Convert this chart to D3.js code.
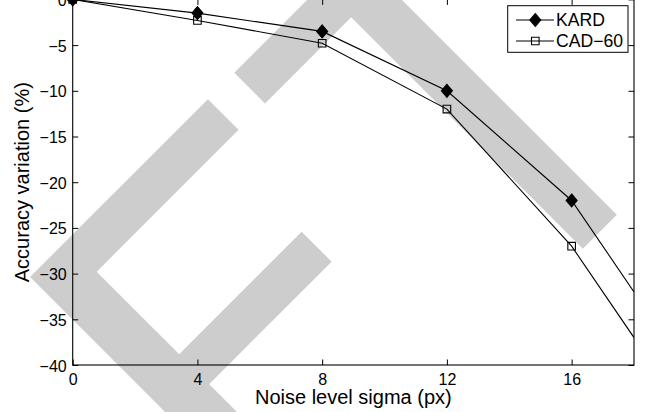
<!DOCTYPE html>
<html>
<head>
<meta charset="utf-8">
<script src="https://cdn.jsdelivr.net/npm/d3@7"></script>
<style>
  html, body { margin: 0; padding: 0; background: #fff; }
  svg { display: block; font-family: "Liberation Sans", Arial, Helvetica, sans-serif; }
</style>
</head>
<body>
<svg id="chart" width="648" height="412"></svg>
<script>
// ---- data ----
const noiseSigma = [0, 4, 8, 12, 16, 18];
const kardValues = [0, -1.5, -3.5, -10, -22, -32];
const cad60Values = [0, -2.3, -4.8, -12, -27, -37];
const seriesNames = ["KARD", "CAD\u221260"];
const xTickValues = [0, 4, 8, 12, 16];
const yTickValues = [0, -5, -10, -15, -20, -25, -30, -35, -40];
const xLabel = "Noise level sigma (px)";
const yLabel = "Accuracy variation (%)";

// ---- layout ----
const W = 648, H = 412;
const plot = { left: 72.7, right: 634, top: -0.6, bottom: 365 };
const svg = d3.select("#chart");

const x = d3.scaleLinear().domain([0, 18]).range([plot.left, plot.right]);
const y = d3.scaleLinear().domain([-40, 0]).range([plot.bottom, plot.top]);

// ---- background watermark (decoration, 45° bands in s=x+y, d=x-y pixel space) ----
const wmBands = [
  // [s-edges..., d-edges...] polygons given as list of (s,d) corners
  [[307, -247], [307, 108.7], [368.4, 108.7], [368.4, -175], [800, -175], [800, -247]],
  [[533.3, -180], [533.3, 70], [593.3, 70], [593.3, -180]],
  [[307, 161.6], [368.4, 161.6], [368.4, 334], [831.6, 334], [831.6, 402], [307, 402]]
];
const sdToXY = p => [(p[0] + p[1]) / 2, (p[0] - p[1]) / 2];
svg.append("g").selectAll("path").data(wmBands).join("path")
  .attr("d", poly => "M" + poly.map(sdToXY).map(p => p.join(",")).join("L") + "Z")
  .attr("fill", "#cdcdcd");

// ---- axes ----
const fmt = d => d < 0 ? "\u2212" + Math.abs(d) : String(d);
const tickLen = 5.5;

const gx = svg.append("g").attr("transform", `translate(0,${plot.bottom})`)
  .call(d3.axisBottom(x).tickValues(xTickValues).tickFormat(fmt)
    .tickSizeInner(-tickLen).tickSizeOuter(0).tickPadding(8.5));
const gxTop = svg.append("g").attr("transform", `translate(0,${plot.top})`)
  .call(d3.axisTop(x).tickValues(xTickValues).tickFormat("")
    .tickSizeInner(-tickLen).tickSizeOuter(0));
const gy = svg.append("g").attr("transform", `translate(${plot.left},0)`)
  .call(d3.axisLeft(y).tickValues(yTickValues).tickFormat(fmt)
    .tickSizeInner(-tickLen).tickSizeOuter(0).tickPadding(6));
const gyRight = svg.append("g").attr("transform", `translate(${plot.right},0)`)
  .call(d3.axisRight(y).tickValues(yTickValues).tickFormat("")
    .tickSizeInner(-tickLen).tickSizeOuter(0));

[gx, gxTop, gy, gyRight].forEach(g => {
  g.select(".domain").remove();
  g.selectAll("line").attr("stroke", "#000").attr("stroke-width", 1);
  g.selectAll("text").attr("fill", "#000").attr("font-size", 16)
    .attr("font-family", "Liberation Sans, Arial, sans-serif");
});
gy.selectAll("text").attr("dy", "0.38em");

// frame
svg.append("rect")
  .attr("x", plot.left).attr("y", plot.top)
  .attr("width", plot.right - plot.left).attr("height", plot.bottom - plot.top)
  .attr("fill", "none").attr("stroke", "#000").attr("stroke-width", 1.1);

// axis labels
svg.append("text")
  .attr("x", (plot.left + plot.right) / 2).attr("y", 404)
  .attr("text-anchor", "middle").attr("font-size", 20).attr("fill", "#000")
  .text(xLabel);
svg.append("text")
  .attr("transform", `translate(29,${(plot.top + plot.bottom) / 2}) rotate(-90)`)
  .attr("text-anchor", "middle").attr("font-size", 20).attr("fill", "#000")
  .text(yLabel);

// ---- series ----
const series = [
  { name: seriesNames[0], values: kardValues, marker: "diamond" },
  { name: seriesNames[1], values: cad60Values, marker: "square" }
];
const line = d3.line().x(d => x(d[0])).y(d => y(d[1]));

svg.append("defs").append("clipPath").attr("id", "plotclip")
  .append("rect").attr("x", plot.left).attr("y", plot.top)
  .attr("width", plot.right - plot.left).attr("height", plot.bottom - plot.top);

const diamondPath = (cx, cy) => `M${cx},${cy - 6.5}L${cx + 5.5},${cy}L${cx},${cy + 6.5}L${cx - 5.5},${cy}Z`;
const squarePath = (cx, cy) => `M${cx - 3.8},${cy - 3.8}h7.6v7.6h-7.6Z`;

// draw CAD first so KARD sits on top
[series[1], series[0]].forEach(s => {
  const pts = noiseSigma.map((n, i) => [n, s.values[i]]);
  svg.append("path").datum(pts)
    .attr("clip-path", "url(#plotclip)")
    .attr("d", line).attr("fill", "none").attr("stroke", "#000").attr("stroke-width", 1.1);
  svg.append("g").selectAll("path").data(pts.filter(p => p[0] < x.domain()[1])).join("path")
    .attr("d", p => s.marker === "diamond" ? diamondPath(x(p[0]), y(p[1])) : squarePath(x(p[0]), y(p[1])))
    .attr("fill", s.marker === "diamond" ? "#000" : "none")
    .attr("stroke", "#000").attr("stroke-width", 1.1);
});

// ---- legend ----
const lg = { left: 507.7, top: 5.7, right: 628, bottom: 52.3 };
svg.append("rect")
  .attr("x", lg.left).attr("y", lg.top)
  .attr("width", lg.right - lg.left).attr("height", lg.bottom - lg.top)
  .attr("fill", "#fff").attr("stroke", "#000").attr("stroke-width", 1);
const rowY = [20, 41];
series.forEach((s, i) => {
  const cy = rowY[i];
  svg.append("line").attr("x1", 516).attr("x2", 554).attr("y1", cy).attr("y2", cy)
    .attr("stroke", "#000").attr("stroke-width", 1.1);
  svg.append("path")
    .attr("d", s.marker === "diamond" ? diamondPath(535.3, cy) : squarePath(535.3, cy))
    .attr("fill", s.marker === "diamond" ? "#000" : "none")
    .attr("stroke", "#000").attr("stroke-width", 1.1);
  svg.append("text").attr("x", 556).attr("y", cy + 6.2)
    .attr("font-size", 17.6).attr("fill", "#000").text(s.name);
});
</script>
</body>
</html>
